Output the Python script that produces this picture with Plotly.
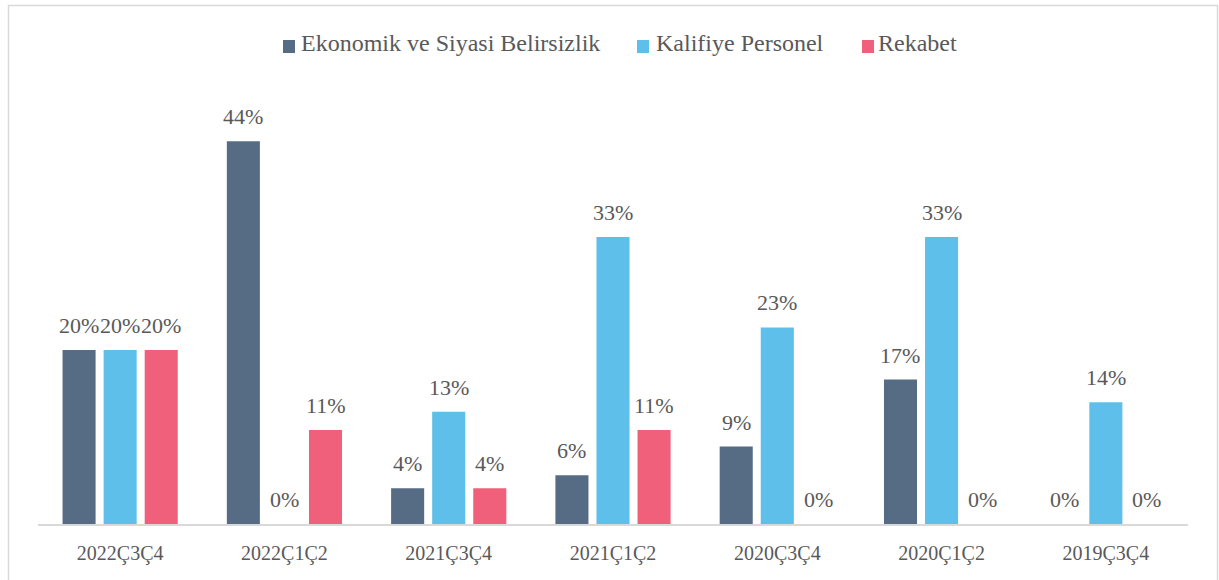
import plotly.graph_objects as go

categories = ["2022Ç3Ç4", "2022Ç1Ç2", "2021Ç3Ç4", "2021Ç1Ç2", "2020Ç3Ç4", "2020Ç1Ç2", "2019Ç3Ç4"]
ekonomik = [20, 44, 4.1, 5.6, 8.9, 16.6, 0]
kalifiye = [20, 0, 12.9, 33, 22.6, 33, 14]
rekabet = [20, 10.8, 4.1, 10.8, 0, 0, 0]

series_names = ["Ekonomik ve Siyasi Belirsizlik", "Kalifiye Personel", "Rekabet"]
series_values = [ekonomik, kalifiye, rekabet]
series_colors = ["#566C84", "#5EBFEA", "#F0607A"]

font_family = "Liberation Serif"
text_color = "#595959"

L, R, T, B = 38, 31, 89, 56
W, H = 1219, 580
pw = W - L - R
ph = H - T - B
bargap = 0.25
cat_px = pw / len(categories)
bar_step_px = cat_px * (1 - bargap) / 3  # spacing between bar centres inside a group

fig = go.Figure()
annotations = []
for k, (name, vals, color) in enumerate(zip(series_names, series_values, series_colors)):
    fig.add_trace(go.Bar(
        name=name, x=categories, y=vals,
        marker=dict(color=color, line=dict(width=0)),
        showlegend=False,
    ))
    for c, v in zip(categories, vals):
        annotations.append(dict(
            x=c, y=v, xref="x", yref="y", text=f"{round(v):d}%",
            showarrow=False, xanchor="center", yanchor="bottom",
            xshift=(k - 1) * bar_step_px, yshift=10,
            font=dict(family=font_family, size=22, color=text_color),
        ))

# manual legend (pixel positions converted to paper coords)
legend_sq_x = [283, 637, 862]
legend_tx_x = [299, 654, 876]
shapes = []
for name, color, sx, tx in zip(series_names, series_colors, legend_sq_x, legend_tx_x):
    shapes.append(dict(type="rect", xref="paper", yref="paper",
                       x0=(sx - L) / pw, x1=(sx + 12 - L) / pw,
                       y0=(524 - 53) / ph, y1=(524 - 40) / ph,
                       fillcolor=color, line=dict(width=0)))
    annotations.append(dict(x=(tx - L) / pw, y=(524 - 43) / ph, xref="paper", yref="paper",
                            text=name, showarrow=False, xanchor="left", yanchor="middle",
                            font=dict(family=font_family, size=24, color=text_color)))

shapes.append(dict(type="rect", xref="paper", yref="paper",
                   x0=(8.5 - L) / pw, x1=(1217.5 - L) / pw,
                   y0=-0.3, y1=(524 - 5.5) / ph,
                   line=dict(color="#D9D9D9", width=1.5), layer="below"))

fig.update_layout(
    width=W, height=H,
    margin=dict(l=L, r=R, t=T, b=B, pad=0),
    paper_bgcolor="white", plot_bgcolor="white",
    barmode="group", bargap=bargap, bargroupgap=0.195,
    font=dict(family=font_family, size=20, color=text_color),
    showlegend=False,
    xaxis=dict(showgrid=False, showline=True, linecolor="#D9D9D9", linewidth=1.5,
               ticks="", tickfont=dict(family=font_family, size=20, color=text_color),
               ticklabelstandoff=10),
    yaxis=dict(range=[0, 50], visible=False),
    shapes=shapes,
    annotations=annotations,
)

fig.write_html("out.html", config={"displayModeBar": False},
               post_script="document.body.style.margin='0';document.body.style.padding='0';")
